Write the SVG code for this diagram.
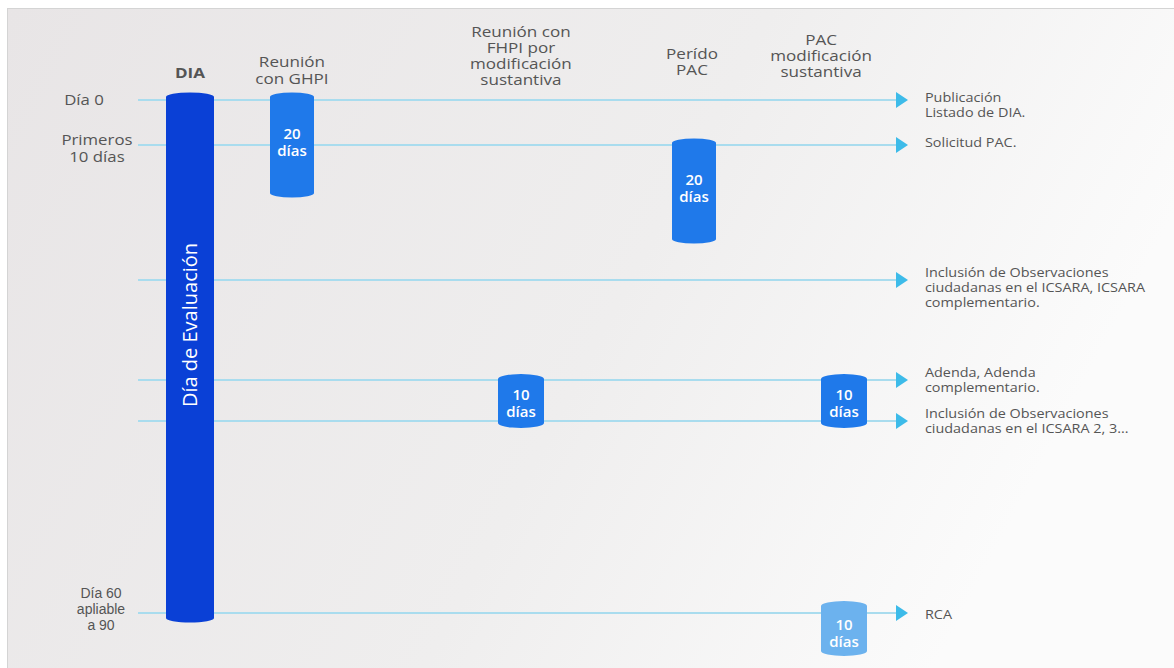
<svg xmlns="http://www.w3.org/2000/svg" width="1174" height="668" viewBox="0 0 1174 668">
<defs>
<linearGradient id="bg" x1="0" y1="0" x2="1" y2="0.3">
<stop offset="0" stop-color="#e8e5e6"/>
<stop offset="0.6" stop-color="#efeeee"/>
<stop offset="1" stop-color="#fbfbfb"/>
</linearGradient>
<marker id="arr" viewBox="0 0 12 16" refX="1" refY="8" markerWidth="12" markerHeight="16" markerUnits="userSpaceOnUse" orient="auto">
<path d="M0,0 L12,8 L0,16 Z" fill="#3dbbe9"/>
</marker>
<style>
.ln{stroke:#a9dcee;stroke-width:2;fill:none}
.hd{font-family:"Open Sans","Liberation Sans",sans-serif;font-size:14px;fill:#555;text-anchor:middle}
.lf{font-family:"Open Sans","Liberation Sans",sans-serif;font-size:14px;fill:#555;text-anchor:middle}
.cd{font-family:"Liberation Sans Narrow","Liberation Sans",sans-serif;font-size:14px;fill:#555;text-anchor:middle}
.rt{font-family:"Open Sans","Liberation Sans",sans-serif;font-size:12px;fill:#555}
.cap{fill:#1f79ea}
.capl{fill:#6cb2ee}
.ct{font-family:"Open Sans","Liberation Sans",sans-serif;font-size:15px;font-weight:600;fill:#fff;text-anchor:middle}
</style>
</defs>
<rect x="0" y="0" width="1174" height="668" fill="#fff"/>
<rect x="7.5" y="8.5" width="1170" height="665" fill="url(#bg)" stroke="#d4d4d4"/>

<g id="connectors">
<line class="ln" x1="138" y1="100" x2="897" y2="100" marker-end="url(#arr)"/>
<line class="ln" x1="138" y1="145" x2="897" y2="145" marker-end="url(#arr)"/>
<line class="ln" x1="138" y1="280" x2="897" y2="280" marker-end="url(#arr)"/>
<line class="ln" x1="138" y1="380" x2="897" y2="380" marker-end="url(#arr)"/>
<line class="ln" x1="138" y1="421" x2="897" y2="421" marker-end="url(#arr)"/>
<line class="ln" x1="138" y1="613" x2="897" y2="613" marker-end="url(#arr)"/>
</g>

<g id="headers" transform="scale(1.22,1)">
<text class="hd" x="155.7" y="78" font-weight="700" fill="#333">DIA</text>
<text class="hd" x="239.3" y="67">Reunión</text>
<text class="hd" x="239.3" y="84">con GHPI</text>
<text class="hd" x="427" y="37">Reunión con</text>
<text class="hd" x="427" y="53">FHPI por</text>
<text class="hd" x="427" y="69">modificación</text>
<text class="hd" x="427" y="85">sustantiva</text>
<text class="hd" x="567.2" y="59">Perído</text>
<text class="hd" x="567.2" y="75">PAC</text>
<text class="hd" x="673" y="45">PAC</text>
<text class="hd" x="673" y="61">modificación</text>
<text class="hd" x="673" y="77">sustantiva</text>
</g>

<g id="left-labels">
<g transform="scale(1.2,1)">
<text class="lf" x="70" y="105">Día 0</text>
<text class="lf" x="80.8" y="145">Primeros</text>
<text class="lf" x="80.8" y="162">10 días</text>
</g>
<text class="cd" x="101" y="598">Día 60</text>
<text class="cd" x="101" y="614">apliable</text>
<text class="cd" x="101" y="630">a 90</text>
</g>

<g id="bar-dia">
<path d="M166,97 A24,4.5 0 0 1 214,97 V618 A24,4.5 0 0 1 166,618 Z" fill="#0a40d6"/>
<text transform="translate(197,325) rotate(-90)" font-family="'Open Sans','Liberation Sans',sans-serif" font-size="20" fill="#fff" text-anchor="middle">Día de Evaluación</text>
</g>

<g id="cap-ghpi">
<path class="cap" d="M270,97 A22,4.5 0 0 1 314,97 V193 A22,4.5 0 0 1 270,193 Z"/>
<text class="ct" x="292" y="139">20</text>
<text class="ct" x="292" y="156">días</text>
</g>

<g id="cap-pac">
<path class="cap" d="M672,143 A22,4.5 0 0 1 716,143 V239 A22,4.5 0 0 1 672,239 Z"/>
<text class="ct" x="694" y="185">20</text>
<text class="ct" x="694" y="202">días</text>
</g>

<g id="cap-fhpi">
<path class="cap" d="M498,379 A23,5 0 0 1 544,379 V423 A23,5 0 0 1 498,423 Z"/>
<text class="ct" x="521" y="400">10</text>
<text class="ct" x="521" y="417">días</text>
</g>

<g id="cap-pacmod">
<path class="cap" d="M821,379 A23,5 0 0 1 867,379 V423 A23,5 0 0 1 821,423 Z"/>
<text class="ct" x="844" y="400">10</text>
<text class="ct" x="844" y="417">días</text>
</g>

<g id="cap-rca">
<path class="capl" d="M821,606 A23,5 0 0 1 867,606 V651 A23,5 0 0 1 821,651 Z"/>
<text class="ct" x="844" y="630" font-weight="400">10</text>
<text class="ct" x="844" y="647" font-weight="400">días</text>
</g>

<g id="right-labels" transform="scale(1.2,1)">
<text class="rt" x="770.8" y="102">Publicación</text>
<text class="rt" x="770.8" y="117">Listado de DIA.</text>
<text class="rt" x="770.8" y="147">Solicitud PAC.</text>
<text class="rt" x="770.8" y="277">Inclusión de Observaciones</text>
<text class="rt" x="770.8" y="292">ciudadanas en el ICSARA, ICSARA</text>
<text class="rt" x="770.8" y="307">complementario.</text>
<text class="rt" x="770.8" y="377">Adenda, Adenda</text>
<text class="rt" x="770.8" y="392">complementario.</text>
<text class="rt" x="770.8" y="418">Inclusión de Observaciones</text>
<text class="rt" x="770.8" y="433">ciudadanas en el ICSARA 2, 3...</text>
<text class="rt" x="770.8" y="619">RCA</text>
</g>
</svg>
